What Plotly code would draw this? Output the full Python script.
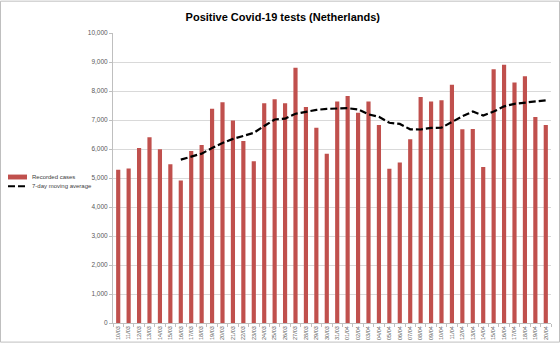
import plotly.graph_objects as go

dates = ["10/03","11/03","12/03","13/03","14/03","15/03","16/03","17/03","18/03","19/03",
         "20/03","21/03","22/03","23/03","24/03","25/03","26/03","27/03","28/03","29/03",
         "30/03","31/03","01/04","02/04","03/04","04/04","05/04","06/04","07/04","08/04",
         "09/04","10/04","11/04","12/04","13/04","14/04","15/04","16/04","17/04","18/04",
         "19/04","20/04"]

cases = [5282, 5327, 6036, 6408, 5991, 5473, 4910, 5935, 6137, 7387,
         7613, 6982, 6273, 5574, 7579, 7714, 7579, 8806, 7444, 6734,
         5833, 7638, 7831, 7254, 7638, 6825, 5322, 5537, 6339, 7797,
         7638, 7684, 8215, 6678, 6689, 5379, 8746, 8904, 8294, 8508,
         7107, 6825]

moving_avg = [None, None, None, None, None, None, 5632, 5726, 5841, 6034,
              6207, 6348, 6462, 6557, 6792, 7017, 7045, 7215, 7281, 7347,
              7384, 7393, 7409, 7363, 7196, 7108, 6906, 6864, 6678, 6673,
              6728, 6735, 6933, 7127, 7291, 7154, 7290, 7471, 7558, 7600,
              7661, 7680]

series_names = ["Recorded cases", "7-day moving average"]
BAR_COLOR = "#c0504d"
DASH = "7px,3px"

W, H = 560, 349
ML, MR, MT, MB = 113, 9, 33, 20
PW, PH = W - ML - MR, H - MT - MB


def px(x):
    return (x - ML) / PW


def py(y):
    return (H - MB - y) / PH


FONT = "Liberation Sans Narrow, Arial Narrow, Liberation Sans, sans-serif"

fig = go.Figure()
fig.add_trace(go.Bar(x=dates, y=cases, name=series_names[0],
                     marker=dict(color=BAR_COLOR, line=dict(width=0))))
fig.add_trace(go.Scatter(x=dates, y=moving_avg, name=series_names[1],
                         mode="lines", line=dict(color="black", width=2.2, dash=DASH)))

shapes = [
    # outer chart border
    dict(type="rect", xref="paper", yref="paper",
         x0=px(0.5), x1=px(W - 0.5), y0=py(H - 0.5), y1=py(0.5),
         line=dict(color="#bfbfbf", width=1), fillcolor="rgba(0,0,0,0)", layer="above"),
    # legend: bar swatch
    dict(type="rect", xref="paper", yref="paper",
         x0=px(8), x1=px(27), y0=py(182.5), y1=py(177.5),
         line=dict(width=0), fillcolor=BAR_COLOR),
    # legend: dashed line
    dict(type="line", xref="paper", yref="paper",
         x0=px(8), x1=px(27), y0=py(189.5), y1=py(189.5),
         line=dict(color="black", width=2, dash=DASH)),
]

annotations = [
    dict(text=series_names[0], xref="paper", yref="paper", x=px(30), y=py(180),
         xanchor="left", yanchor="middle", showarrow=False,
         font=dict(size=6, color="#404040", family=FONT)),
    dict(text=series_names[1], xref="paper", yref="paper", x=px(30), y=py(189.5),
         xanchor="left", yanchor="middle", showarrow=False,
         font=dict(size=6, color="#404040", family=FONT)),
]

fig.update_layout(
    width=W, height=H,
    margin=dict(l=ML, r=MR, t=MT, b=MB),
    paper_bgcolor="white", plot_bgcolor="white",
    bargap=0.6,
    showlegend=False,
    font=dict(family=FONT, color="#595959"),
    title=dict(text="<b>Positive Covid-19 tests (Netherlands)</b>",
               x=0.505, xanchor="center", xref="container",
               y=1 - 17 / H, yanchor="middle", yref="container",
               font=dict(size=11, color="black", family=FONT)),
    yaxis=dict(range=[0, 10000], dtick=1000, tickformat=",",
               showgrid=True, gridcolor="#d9d9d9", gridwidth=1,
               showline=True, linecolor="#bfbfbf", linewidth=1,
               ticks="outside", ticklen=3, tickcolor="#bfbfbf",
               tickfont=dict(size=6.5, color="#595959"), zeroline=False),
    xaxis=dict(type="category", tickangle=-90, showline=True, linecolor="#bfbfbf",
               ticks="outside", ticklen=3, tickcolor="#bfbfbf", tickson="boundaries",
               tickfont=dict(size=5.5, color="#595959"), showgrid=False),
    shapes=shapes,
    annotations=annotations,
)

fig.write_html("out.html")
